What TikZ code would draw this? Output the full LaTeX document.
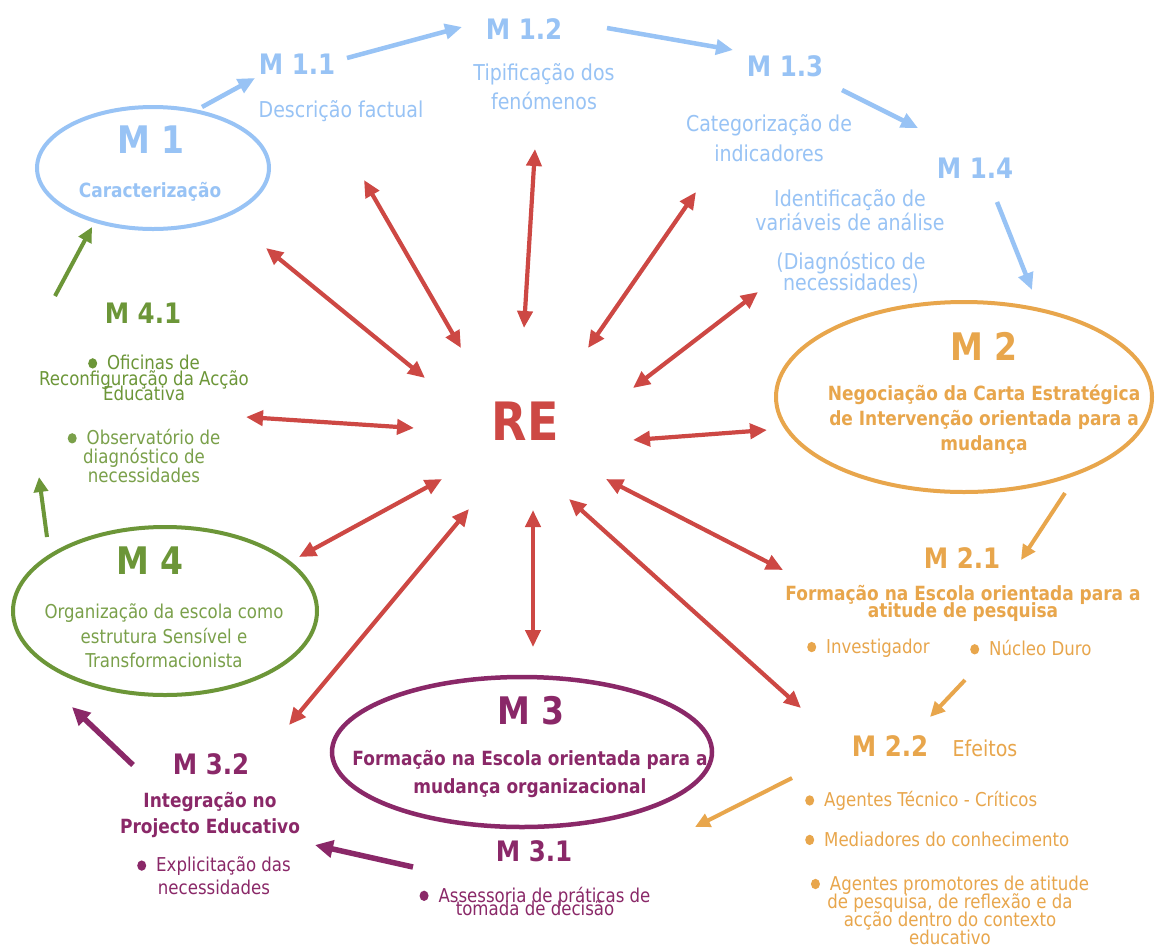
\documentclass[tikz,border=0pt]{standalone}
\usepackage{fontspec}
\setmainfont{DejaVu Sans}
\usetikzlibrary{arrows.meta,shapes.geometric}

\definecolor{cblue}{RGB}{152,195,245}
\definecolor{cred}{RGB}{205,72,68}
\definecolor{corange}{RGB}{232,166,76}
\definecolor{cgreen}{RGB}{108,150,56}
\definecolor{cgreentxt}{RGB}{122,160,74}
\definecolor{cpurple}{RGB}{138,40,104}

% round list marker in the current text colour
\newcommand{\bul}{\tikz[baseline=-5.4pt]\fill (0,0) circle[radius=4.5pt];\hspace{10pt}}
% lines may come closer than their glyphs allow
\newcommand{\tightlines}{\lineskiplimit -100pt\relax}

\tikzset{
  lbl/.style={inner sep=0pt, yscale=1.15, align=center},
  big/.style={lbl, font={\bfseries\fontsize{33}{36}\selectfont}},
  sub/.style={lbl, font={\bfseries\fontsize{24.5}{28}\selectfont}},
  boldtxt/.style={lbl, font={\bfseries\fontsize{17}{#1}\selectfont\tightlines}},
  boldtxt/.default=21,
  regtxt/.style={lbl, font={\fontsize{16.6}{#1}\selectfont\tightlines}},
  regtxt/.default=20,
  thintxt/.style={lbl, font={\fontsize{19}{#1}\selectfont\tightlines}},
  thintxt/.default=22,
  ring/.style={draw, ellipse, inner sep=0pt, line width=4pt},
  redarr/.style={draw=cred, line width=4.2pt, >={Triangle[length=17pt,width=15pt]}, <->},
  bluearr/.style={draw=cblue, line width=4.5pt, >={Triangle[length=17pt,width=15pt]}, ->},
  orangearr/.style={draw=corange, line width=4pt, >={Triangle[length=15pt,width=14pt]}, ->},
  purplearr/.style={draw=cpurple, line width=5.5pt, >={Triangle[length=18pt,width=17pt]}, ->},
  greenarr/.style={draw=cgreen, line width=4pt, >={Triangle[length=15pt,width=14pt]}, ->},
}

\begin{document}
\begin{tikzpicture}[x=1pt,y=-1pt]
\useasboundingbox (0,0) rectangle (1156,948);
\fill[white] (0,0) rectangle (1156,948);

% ---- M1 and its steps (blue)
\node[ring, draw=cblue, minimum width=232pt, minimum height=122pt] (m1) at (153,168) {};
\node[big, text=cblue] (m1t) at (151,140) {M 1};
\node[boldtxt, text=cblue] (m1d) at (150,192) {Caracterização};

\node[sub, text=cblue] (m11) at (297,64) {M 1.1};
\node[thintxt, text=cblue] (m11d) at (341,111) {Descrição factual};
\node[sub, text=cblue] (m12) at (524,29) {M 1.2};
\node[thintxt=25.2, text=cblue] (m12d) at (544,87) {Tipificação dos\\fenómenos};
\node[sub, text=cblue] (m13) at (785,66) {M 1.3};
\node[thintxt=26, text=cblue] (m13d) at (769,138) {Categorização de\\indicadores};
\node[sub, text=cblue] (m14) at (975,168) {M 1.4};
\node[thintxt=20.9, text=cblue] (m14a) at (850,210) {Identificação de\\variáveis de análise};
\node[thintxt=18.3, text=cblue] (m14b) at (851,273) {(Diagnóstico de\\necessidades)};

% ---- M2 (orange)
\node[ring, draw=corange, minimum width=376pt, minimum height=190pt] (m2) at (964,397) {};
\node[big, text=corange] (m2t) at (984,346) {M 2};
\node[boldtxt=21.7, text=corange] (m2d) at (984,420) {Negociação da Carta Estratégica\\de Intervenção orientada para a\\mudança};

\node[sub, text=corange] (m21) at (962,558) {M 2.1};
\node[boldtxt=14.8, text=corange] (m21d) at (963,603) {Formação na Escola orientada para a\\atitude de pesquisa};
\node[regtxt, text=corange, anchor=west] (m21a) at (807,648) {\bul Investigador};
\node[regtxt, text=corange, anchor=west] (m21b) at (970,648) {\bul Núcleo Duro};

\node[sub, text=corange] (m22) at (890,746) {M 2.2};
\node[thintxt, text=corange] (m22e) at (985,748) {Efeitos};
\node[regtxt, text=corange, anchor=west] (m22a) at (805,801) {\bul Agentes Técnico - Críticos};
\node[regtxt, text=corange, anchor=west] (m22b) at (805,839) {\bul Mediadores do conhecimento};
\node[regtxt=15.6, text=corange] (m22c) at (950,910) {\bul Agentes promotores de atitude\\de pesquisa, de reflexão e da\\acção dentro do contexto\\educativo};

% ---- M3 (purple)
\node[ring, draw=cpurple, line width=4.5pt, minimum width=380pt, minimum height=150pt] (m3) at (522,752) {};
\node[big, text=cpurple] (m3t) at (531,711) {M 3};
\node[boldtxt=24.3, text=cpurple] (m3d) at (530,774) {Formação na Escola orientada para a\\mudança organizacional};
\node[sub, text=cpurple] (m31) at (534,851) {M 3.1};
\node[regtxt=11.3, text=cpurple] (m31a) at (535,901) {\bul Assessoria de práticas de\\tomada de decisão};

\node[sub, text=cpurple] (m32) at (211,764) {M 3.2};
\node[boldtxt=22.6, text=cpurple] (m32d) at (210,815) {Integração no\\Projecto Educativo};
\node[regtxt=20, text=cpurple] (m32a) at (214,876) {\bul Explicitação das\\necessidades};

% ---- M4 (green)
\node[ring, draw=cgreen, minimum width=304pt, minimum height=168pt] (m4) at (165,611) {};
\node[big, text=cgreen] (m4t) at (150,561) {M 4};
\node[regtxt=21.3, text=cgreentxt] (m4d) at (164,636) {Organização da escola como\\estrutura Sensível e\\Transformacionista};

\node[sub, text=cgreen] (m41) at (143,313) {M 4.1};
\node[regtxt=13.5, text=cgreen] (m41a) at (144,378) {\bul Oficinas de\\Reconfiguração da Acção\\Educativa};
\node[regtxt=16.5, text=cgreentxt] (m41b) at (144,456) {\bul Observatório de\\diagnóstico de\\necessidades};

% ---- centre
\node[lbl, font={\bfseries\fontsize{46}{50}\selectfont}, text=cred] (re) at (525,421) {RE};

% ---- connector end points
\coordinate (b1s) at (202,107); \coordinate (b1e) at (255,78);
\coordinate (b2s) at (347,58);  \coordinate (b2e) at (462,27);
\coordinate (b3s) at (607,28);  \coordinate (b3e) at (733,50);
\coordinate (b4s) at (842,90);  \coordinate (b4e) at (918,128);
\coordinate (b5s) at (997,202); \coordinate (b5e) at (1032,290);

\coordinate (o1s) at (1065,493); \coordinate (o1e) at (1021,560);
\coordinate (o2s) at (965,680);  \coordinate (o2e) at (930,717);
\coordinate (o3s) at (792,778);  \coordinate (o3e) at (695,827);

\coordinate (p1s) at (413,867); \coordinate (p1e) at (315,845);
\coordinate (p2s) at (133,765); \coordinate (p2e) at (72,707);

\coordinate (g1s) at (47,537); \coordinate (g1e) at (39,477);
\coordinate (g2s) at (55,296); \coordinate (g2e) at (92,227);

\coordinate (r1o) at (364,180);  \coordinate (r1i) at (461,348);
\coordinate (r2o) at (266,248);  \coordinate (r2i) at (425,378);
\coordinate (r3o) at (535,149);  \coordinate (r3i) at (524,328);
\coordinate (r4o) at (696,192);  \coordinate (r4i) at (588,348);
\coordinate (r5o) at (758,292);  \coordinate (r5i) at (633,388);
\coordinate (r6o) at (246,417);  \coordinate (r6i) at (414,428);
\coordinate (r7o) at (767,430);  \coordinate (r7i) at (633,440);
\coordinate (r8o) at (299,557);  \coordinate (r8i) at (442,479);
\coordinate (r9o) at (289,725);  \coordinate (r9i) at (469,509);
\coordinate (r10o) at (533,647); \coordinate (r10i) at (533,510);
\coordinate (r11o) at (801,708); \coordinate (r11i) at (569,499);
\coordinate (r12o) at (783,570); \coordinate (r12i) at (606,479);

% ---- sequence arrows
\draw[bluearr] (b1s) -- (b1e);
\draw[bluearr] (b2s) -- (b2e);
\draw[bluearr] (b3s) -- (b3e);
\draw[bluearr] (b4s) -- (b4e);
\draw[bluearr] (b5s) -- (b5e);
\draw[orangearr] (o1s) -- (o1e);
\draw[orangearr] (o2s) -- (o2e);
\draw[orangearr] (o3s) -- (o3e);
\draw[purplearr] (p1s) -- (p1e);
\draw[purplearr] (p2s) -- (p2e);
\draw[greenarr] (g1s) -- (g1e);
\draw[greenarr] (g2s) -- (g2e);

% ---- links with the centre
\foreach \k in {1,...,12}{
  \draw[redarr] (r\k o) -- (r\k i);
}
\end{tikzpicture}
\end{document}
